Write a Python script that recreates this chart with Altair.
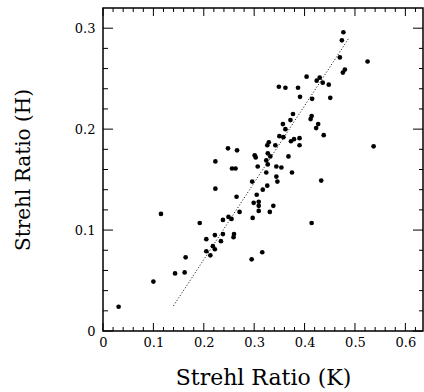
import altair as alt
import pandas as pd

# Strehl ratio in K (x) and H (y) for each star
k_ratio = [0.477, 0.474, 0.470, 0.525, 0.480, 0.476, 0.404, 0.430, 0.424, 0.436,
           0.448, 0.349, 0.362, 0.387, 0.391, 0.415, 0.451, 0.377, 0.372, 0.357,
           0.362, 0.414, 0.412, 0.427, 0.423, 0.438, 0.350, 0.358, 0.329, 0.326,
           0.342, 0.373, 0.379, 0.390, 0.390, 0.537, 0.248, 0.266, 0.301, 0.303,
           0.327, 0.332, 0.368, 0.223, 0.324, 0.327, 0.307, 0.256, 0.263, 0.344,
           0.354, 0.324, 0.375, 0.344, 0.346, 0.433, 0.296, 0.326, 0.317, 0.223,
           0.305, 0.265, 0.299, 0.309, 0.309, 0.338, 0.309, 0.331, 0.271, 0.115,
           0.297, 0.238, 0.249, 0.255, 0.192, 0.414, 0.222, 0.238, 0.260, 0.259,
           0.205, 0.234, 0.218, 0.222, 0.205, 0.213, 0.164, 0.316, 0.295, 0.143,
           0.162, 0.100, 0.031]
h_ratio = [0.296, 0.288, 0.271, 0.267, 0.259, 0.256, 0.252, 0.251, 0.248, 0.246,
           0.244, 0.242, 0.241, 0.241, 0.232, 0.230, 0.231, 0.215, 0.209, 0.205,
           0.200, 0.213, 0.210, 0.205, 0.201, 0.194, 0.193, 0.192, 0.187, 0.184,
           0.184, 0.188, 0.190, 0.191, 0.184, 0.183, 0.181, 0.179, 0.174, 0.172,
           0.176, 0.173, 0.173, 0.168, 0.169, 0.165, 0.163, 0.161, 0.161, 0.163,
           0.162, 0.157, 0.157, 0.153, 0.148, 0.149, 0.148, 0.144, 0.140, 0.141,
           0.135, 0.133, 0.127, 0.128, 0.124, 0.124, 0.119, 0.118, 0.118, 0.116,
           0.112, 0.110, 0.113, 0.111, 0.107, 0.107, 0.095, 0.096, 0.096, 0.093,
           0.091, 0.089, 0.084, 0.081, 0.079, 0.075, 0.073, 0.078, 0.071, 0.057,
           0.058, 0.049, 0.024]

# dotted fit line end points
fit_k = [0.140, 0.489]
fit_h = [0.025, 0.291]

# axis ticks
x_major = [0.0, 0.1, 0.2, 0.3, 0.4, 0.5, 0.6]
x_minor = [0.02, 0.04, 0.06, 0.08, 0.12, 0.14, 0.16, 0.18, 0.22, 0.24, 0.26, 0.28,
           0.32, 0.34, 0.36, 0.38, 0.42, 0.44, 0.46, 0.48, 0.52, 0.54, 0.56, 0.58, 0.62]
y_major = [0.0, 0.1, 0.2, 0.3]
y_minor = [0.02, 0.04, 0.06, 0.08, 0.12, 0.14, 0.16, 0.18, 0.22, 0.24, 0.26, 0.28]

W, H = 320, 323
FONT = "DejaVu Serif"
XT = "Strehl Ratio (K)"
YT = "Strehl Ratio (H)"
XDOM = [0, 0.635]
YDOM = [0, 0.32]
XPX = W / (XDOM[1] - XDOM[0])   # pixels per x unit
YPX = H / (YDOM[1] - YDOM[0])   # pixels per y unit

pts = pd.DataFrame({"k": k_ratio, "h": h_ratio})
fit = pd.DataFrame({"k": fit_k, "h": fit_h})

xs = alt.Scale(domain=XDOM, nice=False, zero=False)
ys = alt.Scale(domain=YDOM, nice=False, zero=False)

lab = "datum.value == 0 ? '0' : format(datum.value, '.1f')"

xaxis = alt.Axis(values=x_major, labelExpr=lab, tickSize=0, tickColor="transparent",
                 domain=False, grid=False, labelFont=FONT, labelFontSize=13,
                 labelColor="black", labelPadding=5, labelFlush=False, labelOverlap=False,
                 titleFont=FONT, titleFontSize=22, titleFontWeight="normal",
                 titleColor="black", titleBaseline="alphabetic", titleX=W / 2, titleY=53)
yaxis = alt.Axis(values=y_major, labelExpr=lab, tickSize=0, tickColor="transparent",
                 domain=False, grid=False, labelFont=FONT, labelFontSize=13,
                 labelColor="black", labelPadding=8, labelFlush=False, labelOverlap=False,
                 titleFont=FONT, titleFontSize=20, titleFontWeight="normal",
                 titleColor="black", titleBaseline="alphabetic", titleX=-74, titleY=H / 2)

points = alt.Chart(pts).mark_circle(size=22, color="black", opacity=1).encode(
    x=alt.X("k:Q", scale=xs, axis=xaxis, title=XT),
    y=alt.Y("h:Q", scale=ys, axis=yaxis, title=YT),
)

line = alt.Chart(fit).mark_line(color="black", strokeWidth=1, strokeDash=[1, 2]).encode(
    x=alt.X("k:Q", scale=xs, title=XT),
    y=alt.Y("h:Q", scale=ys, title=YT),
)


def xticks(vals, edge, length_px, inward):
    d = inward * length_px / YPX
    df = pd.DataFrame({"v": vals, "a": [edge] * len(vals), "b": [edge + d] * len(vals)})
    return alt.Chart(df).mark_rule(color="black", strokeWidth=1).encode(
        x=alt.X("v:Q", scale=xs, title=XT),
        y=alt.Y("a:Q", scale=ys, title=YT),
        y2="b:Q",
    )


def yticks(vals, edge, length_px, inward):
    d = inward * length_px / XPX
    df = pd.DataFrame({"v": vals, "a": [edge] * len(vals), "b": [edge + d] * len(vals)})
    return alt.Chart(df).mark_rule(color="black", strokeWidth=1).encode(
        y=alt.Y("v:Q", scale=ys, title=YT),
        x=alt.X("a:Q", scale=xs, title=XT),
        x2="b:Q",
    )


layers = [
    points, line,
    xticks(x_major, YDOM[0], 8, 1), xticks(x_minor, YDOM[0], 4, 1),
    xticks(x_major, YDOM[1], 8, -1), xticks(x_minor, YDOM[1], 4, -1),
    yticks(y_major, XDOM[0], 10, 1), yticks(y_minor, XDOM[0], 5, 1),
    yticks(y_major, XDOM[1], 10, -1), yticks(y_minor, XDOM[1], 4, -1),
]

chart = alt.layer(*layers).properties(
    width=W, height=H,
    autosize=alt.AutoSizeParams(type="none"),
    padding={"left": 103, "top": 8, "right": 1, "bottom": 61},
    background="white",
).configure_view(stroke="black", strokeWidth=1.5)

chart.save("out.html", embed_options={"renderer": "svg", "actions": False})
